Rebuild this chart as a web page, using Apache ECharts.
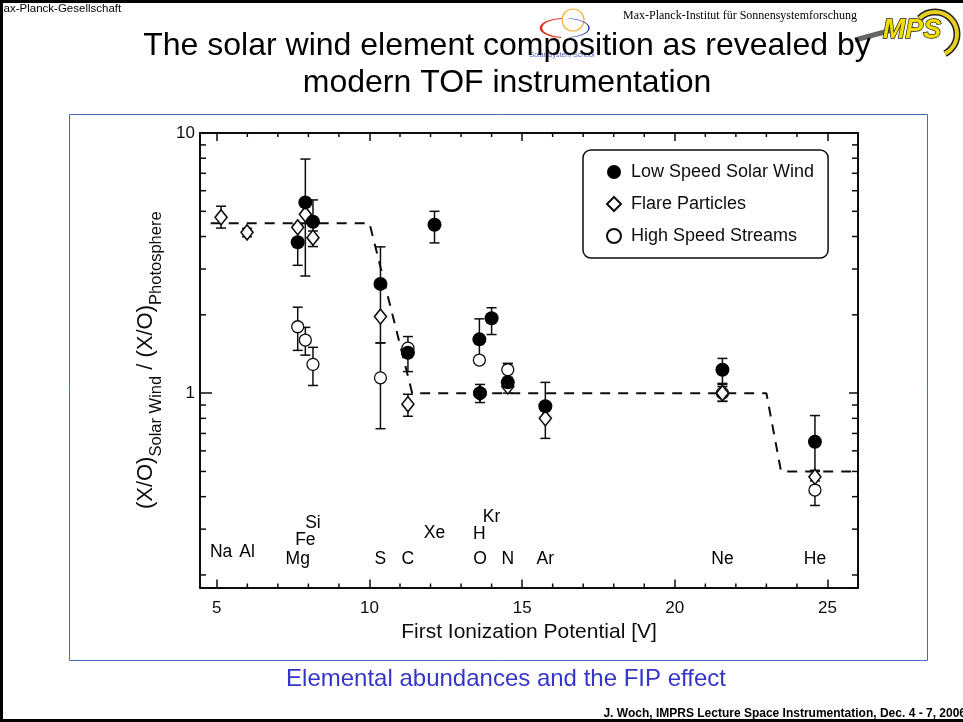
<!DOCTYPE html>
<html><head><meta charset="utf-8">
<script src="https://cdn.jsdelivr.net/npm/echarts@6/dist/echarts.min.js"></script>
<style>html,body{margin:0;padding:0;background:#fff;overflow:hidden}#c{width:963px;height:722px}</style>
</head><body><div id="c"></div>
<script>
// ---------- data ----------
const elementNames = ['Na','Al','Mg','Fe','Si','S','C','Xe','H','O','Kr','N','Ar','Ne','He'];
const elementFip   = [5.14,5.99,7.65,7.90,8.15,10.36,11.26,12.13,13.60,13.62,14.00,14.53,15.76,21.56,24.59];
const labelHeights = [0.244,0.244,0.229,0.272,0.316,0.229,0.229,0.290,0.287,0.229,0.334,0.229,0.229,0.229,0.229];

const slowElements = ['Mg','Fe','Si','S','C','Xe','H','O','Kr','N','Ar','Ne','He'];
const slowValues   = [3.80,5.41,4.56,2.63,1.43,4.44,1.61,1.00,1.94,1.10,0.89,1.23,0.65];
const slowLow      = [3.10,2.82,3.90,1.56,1.21,3.78,1.33,0.92,1.68,1.00,0.80,1.09,0.505];
const slowHigh     = [4.45,7.94,5.53,3.65,1.50,5.00,1.93,1.08,2.13,1.30,1.10,1.36,0.82];

const flareElements = ['Na','Al','Mg','Fe','Si','S','C','O','N','Ar','Ne','He'];
const flareValues   = [4.74,4.15,4.34,4.87,3.96,1.97,0.907,1.00,1.06,0.80,1.00,0.477];
const flareLow      = [4.31,3.99,null,null,3.66,null,0.815,null,null,0.67,0.93,0.44];
const flareHigh     = [5.23,4.30,null,null,4.20,null,0.99,null,null,0.88,1.06,0.50];

const fastElements = ['Mg','Fe','Si','S','C','H','O','N','Ne','He'];
const fastValues   = [1.80,1.60,1.29,1.145,1.49,1.34,1.00,1.23,1.00,0.424];
const fastLow      = [1.46,1.40,1.07,0.73,1.38,null,null,1.15,0.93,0.37];
const fastHigh     = [2.14,1.79,1.50,1.56,1.65,null,null,1.30,1.08,0.46];

const modelX = [4.8,10.0,11.4,23.0,23.48,26.0];
const modelY = [4.5,4.5,1.0,1.0,0.5,0.5];

const xMajorTicks = [5,10,15,20,25];
const xMinorTicks = [6,7,8,9,11,12,13,14,16,17,18,19,21,22,23,24];
const yMinorTicks = [0.2,0.3,0.4,0.5,0.6,0.7,0.8,0.9,2,3,4,5,6,7,8,9];

const X_MIN = 4.45, X_MAX = 26.0, Y_MIN = 0.179, Y_MAX = 10;

// ---------- helpers ----------
const fipOf = n => elementFip[elementNames.indexOf(n)];
function points(names, vals){ return names.map((n,i)=>[fipOf(n), vals[i]]); }
function errData(names, lo, hi){
  const out=[]; names.forEach((n,i)=>{ if(lo[i]!=null) out.push([fipOf(n), lo[i], hi[i]]); }); return out;
}
const INK = '#0d0d0d';
function errRender(params, api){
  const x = api.value(0);
  const p1 = api.coord([x, api.value(1)]), p2 = api.coord([x, api.value(2)]);
  const w = 5, st = {stroke: INK, lineWidth: 1.5};
  return {type:'group', children:[
    {type:'line', shape:{x1:p1[0],y1:p1[1],x2:p2[0],y2:p2[1]}, style:st},
    {type:'line', shape:{x1:p1[0]-w,y1:p1[1],x2:p1[0]+w,y2:p1[1]}, style:st},
    {type:'line', shape:{x1:p2[0]-w,y1:p2[1],x2:p2[0]+w,y2:p2[1]}, style:st}
  ]};
}
function yMinorRender(params, api){
  const cs = params.coordSys;
  const y = api.coord([X_MIN, api.value(1)])[1];
  const st = {stroke: INK, lineWidth: 1.5}, L = 6;
  return {type:'group', children:[
    {type:'line', shape:{x1:cs.x,y1:y,x2:cs.x+L,y2:y}, style:st},
    {type:'line', shape:{x1:cs.x+cs.width,y1:y,x2:cs.x+cs.width-L,y2:y}, style:st}
  ]};
}
function xMinorRender(params, api){
  const cs = params.coordSys;
  const x = api.coord([api.value(0), Y_MIN])[0];
  const st = {stroke: INK, lineWidth: 1.5}, L = 4;
  return {type:'group', children:[
    {type:'line', shape:{x1:x,y1:cs.y+cs.height,x2:x,y2:cs.y+cs.height-L}, style:st},
    {type:'line', shape:{x1:x,y1:cs.y,x2:x,y2:cs.y+L}, style:st}
  ]};
}

const FONT = 'Liberation Sans, Arial, sans-serif';
const chart = echarts.init(document.getElementById('c'), null, {renderer:'canvas'});

const axisLineStyle = {show:true, lineStyle:{color:INK, width:2}};
chart.setOption({
  animation: false,
  backgroundColor: '#fff',
  textStyle: {fontFamily: FONT},
  grid: {left: 200, right: 105, top: 133, bottom: 134.5, containLabel: false},
  legend: {
    data: ['Low Speed Solar Wind','Flare Particles','High Speed Streams'],
    orient: 'vertical', left: 583, top: 150,
    padding: [13, 14, 13, 23],
    itemWidth: 14, itemHeight: 14, itemGap: 14,
    borderColor: INK, borderWidth: 1.5, borderRadius: 8,
    textStyle: {fontSize: 18, color: INK, fontFamily: FONT, padding: [0,0,0,5]},
    selectedMode: false
  },
  xAxis: [
    {type:'value', position:'bottom', min:X_MIN, max:X_MAX,
     axisLine: axisLineStyle,
     axisTick: {show:true, inside:true, length:8, customValues: xMajorTicks, lineStyle:{color:INK, width:1.5}},
     axisLabel: {show:true, customValues: xMajorTicks, margin: 12, fontSize: 17, color: INK, fontFamily: FONT},
     splitLine: {show:false},
     name: 'First Ionization Potential [V]', nameLocation: 'middle', nameGap: 34,
     nameTextStyle: {fontSize: 21, color: INK, fontFamily: FONT}},
    {type:'value', position:'top', min:X_MIN, max:X_MAX,
     axisLine: axisLineStyle,
     axisTick: {show:true, inside:true, length:8, customValues: xMajorTicks, lineStyle:{color:INK, width:1.5}},
     axisLabel: {show:false}, splitLine: {show:false}}
  ],
  yAxis: [
    {type:'log', logBase:10, position:'left', min:Y_MIN, max:Y_MAX,
     axisLine: axisLineStyle,
     axisTick: {show:true, inside:true, length:12, lineStyle:{color:INK, width:1.5}},
     axisLabel: {show:true, margin: 5, fontSize: 17, color: INK, fontFamily: FONT,
       formatter: v => (Math.abs(v-1)<1e-6 || Math.abs(v-10)<1e-6) ? String(Math.round(v)) : ''},
     splitLine: {show:false},
     name: '{m|(X/O)}{s|Solar Wind}{m| / (X/O)}{s|Photosphere}',
     nameLocation: 'middle', nameGap: 34, nameRotate: 90,
     nameTextStyle: {color: INK, fontFamily: FONT, rich: {
       m: {fontSize: 22, lineHeight: 30, verticalAlign: 'top', color: INK, fontFamily: FONT},
       s: {fontSize: 16.5, lineHeight: 16, verticalAlign: 'bottom', color: INK, fontFamily: FONT}
     }}},
    {type:'log', logBase:10, position:'right', min:Y_MIN, max:Y_MAX,
     axisLine: axisLineStyle,
     axisTick: {show:true, inside:true, length:9, lineStyle:{color:INK, width:1.5}},
     axisLabel: {show:false}, splitLine: {show:false}}
  ],
  series: [
    {type:'custom', name:'yMinor', silent:true, renderItem: yMinorRender, encode:{x:0,y:1},
     data: yMinorTicks.map(v=>[X_MIN, v]), z: 1},
    {type:'custom', name:'xMinor', silent:true, renderItem: xMinorRender, encode:{x:0,y:1},
     data: xMinorTicks.map(v=>[v, Y_MIN]), z: 1},
    {type:'line', name:'model', data: modelX.map((x,i)=>[x, modelY[i]]), showSymbol:false, symbol:'none',
     lineStyle:{color:INK, width:2, type:[10,8]}, silent:true, z: 2},
    {type:'custom', name:'errFast', renderItem: errRender, encode:{x:0,y:[1,2]}, data: errData(fastElements, fastLow, fastHigh), z: 3, silent:true},
    {type:'custom', name:'errFlare', renderItem: errRender, encode:{x:0,y:[1,2]}, data: errData(flareElements, flareLow, flareHigh), z: 3, silent:true},
    {type:'custom', name:'errSlow', renderItem: errRender, encode:{x:0,y:[1,2]}, data: errData(slowElements, slowLow, slowHigh), z: 3, silent:true},
    {type:'scatter', name:'High Speed Streams', data: points(fastElements, fastValues), symbol:'circle', symbolSize:12,
     itemStyle:{color:'#fff', borderColor:INK, borderWidth:1.3, opacity:1}, z: 4},
    {type:'scatter', name:'Flare Particles', data: points(flareElements, flareValues), symbol:'diamond', symbolSize:[12,15],
     itemStyle:{color:'#fff', borderColor:INK, borderWidth:1.6, opacity:1}, z: 5},
    {type:'scatter', name:'Low Speed Solar Wind', data: points(slowElements, slowValues), symbol:'circle', symbolSize:14,
     itemStyle:{color:'#000', opacity:1}, z: 6},
    {type:'scatter', name:'elementLabels', silent:true, symbolSize:0, itemStyle:{opacity:1},
     data: elementNames.map((n,i)=>({name:n, value:[elementFip[i], labelHeights[i]]})),
     label:{show:true, position:'inside', formatter:'{b}', fontSize:17.5, color:'#000', fontFamily:FONT}, z: 7}
  ],
  graphic: [
    // slide border
    {type:'rect', shape:{x:0,y:0,width:963,height:3}, style:{fill:'#000'}, silent:true},
    {type:'rect', shape:{x:0,y:0,width:3,height:722}, style:{fill:'#000'}, silent:true},
    {type:'rect', shape:{x:0,y:719,width:963,height:3}, style:{fill:'#000'}, silent:true},
    // blue frame around figure
    {type:'rect', shape:{x:69.5,y:114.5,width:858,height:546}, style:{fill:'none', stroke:'#4a64c8', lineWidth:1}, silent:true, z:-1},
    // header texts
    {type:'text', x:-6, y:3, z:-2, style:{text:'Max-Planck-Gesellschaft', font:'11.5px '+FONT, fill:'#000', textVerticalAlign:'top'}},
    {type:'text', x:740, y:16, style:{text:'Max-Planck-Institut für Sonnensystemforschung', font:'12px Liberation Serif, serif', fill:'#000', textAlign:'center', textVerticalAlign:'middle'}},
    // sun logo (approximation)
    {type:'circle', shape:{cx:573,cy:20,r:11}, style:{fill:'none', stroke:'#f2b43a', lineWidth:1.2}, silent:true},
    {type:'arc', shape:{cx:565,cy:28,r:24,startAngle:Math.PI*0.55,endAngle:Math.PI*1.45}, scaleY:0.4, originY:28, style:{stroke:'#e03020', lineWidth:2.5, fill:'none'}, silent:true},
    {type:'arc', shape:{cx:565,cy:28,r:24,startAngle:-Math.PI*0.45,endAngle:Math.PI*0.45}, scaleY:0.4, originY:28, style:{stroke:'#2c3fb0', lineWidth:1.5, fill:'none'}, silent:true},
    {type:'text', x:562, y:55, style:{text:'Solar System School', font:'7px '+FONT, fill:'#5060c0', textAlign:'center', textVerticalAlign:'middle'}},
    // MPS logo (approximation)
    {type:'arc', shape:{cx:935,cy:34,r:22,startAngle:-Math.PI*0.75,endAngle:Math.PI*0.35}, style:{stroke:'#222', lineWidth:7, fill:'none'}, silent:true},
    {type:'arc', shape:{cx:935,cy:34,r:22,startAngle:-Math.PI*0.75,endAngle:Math.PI*0.35}, style:{stroke:'#e8cf20', lineWidth:4, fill:'none'}, silent:true},
    {type:'line', shape:{x1:855,y1:40,x2:892,y2:30}, style:{stroke:'#666', lineWidth:5}, silent:true},
    {type:'text', x:912, y:31, style:{text:'MPS', font:'italic bold 27px '+FONT, fill:'#f3dc00', stroke:'#222', lineWidth:1.4, textAlign:'center', textVerticalAlign:'middle'}},
    // title
    {type:'text', x:507, y:46, style:{text:'The solar wind element composition as revealed by', font:'32px '+FONT, fill:'#000', textAlign:'center', textVerticalAlign:'middle'}},
    {type:'text', x:507, y:83, style:{text:'modern TOF instrumentation', font:'32px '+FONT, fill:'#000', textAlign:'center', textVerticalAlign:'middle'}},
    // caption
    {type:'text', x:506, y:679, style:{text:'Elemental abundances and the FIP effect', font:'24px '+FONT, fill:'#3535cc', textAlign:'center', textVerticalAlign:'middle'}},
    // footer
    {type:'text', x:966, y:714, style:{text:'J. Woch, IMPRS Lecture Space Instrumentation, Dec. 4 - 7, 2006', font:'bold 12px '+FONT, fill:'#000', textAlign:'right', textVerticalAlign:'middle'}}
  ]
});
</script></body></html>
